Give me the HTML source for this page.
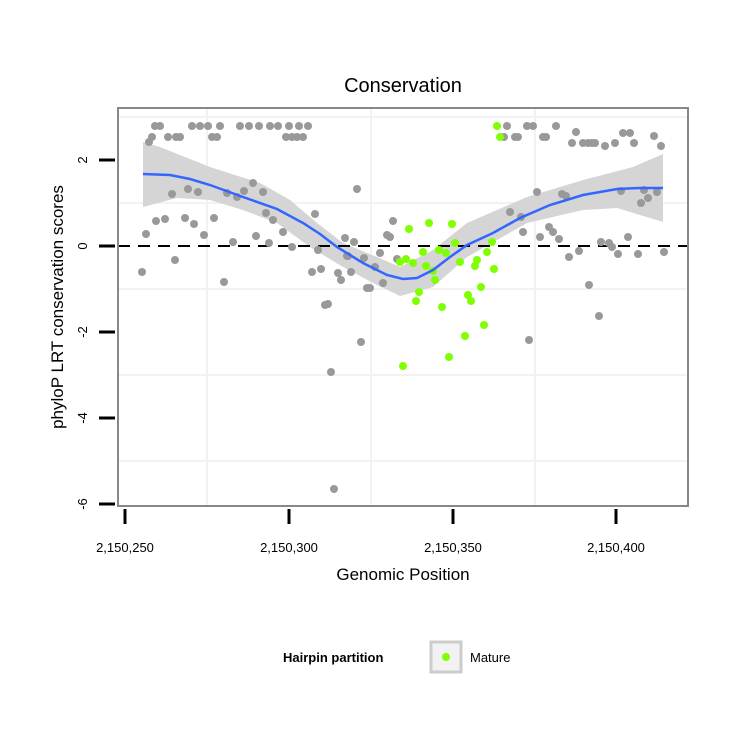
<!DOCTYPE html><html><head><style>body{margin:0;background:#fff}svg{display:block}text{font-family:"Liberation Sans",sans-serif}</style></head><body>
<svg width="750" height="750" viewBox="0 0 750 750">
<rect width="750" height="750" fill="#fff"/>
<g stroke="#f2f2f2" stroke-width="2">
<line x1="207" y1="108" x2="207" y2="506"/><line x1="371" y1="108" x2="371" y2="506"/><line x1="535" y1="108" x2="535" y2="506"/>
<line x1="118" y1="117" x2="688" y2="117"/><line x1="118" y1="203" x2="688" y2="203"/><line x1="118" y1="289" x2="688" y2="289"/><line x1="118" y1="375" x2="688" y2="375"/><line x1="118" y1="461" x2="688" y2="461"/>
</g>
<polygon fill="#d3d3d3" opacity="0.95" points="143,142 160,147 210,167 260,183 290,200 317,223 343,243 377,257 400,267 433,250 467,223 527,197 583,180 633,167 663,154 663,222 617,208 583,210 527,223 467,257 433,287 400,296 377,285 343,267 310,247 277,223 243,210 210,200 177,198 143,207"/>
<line x1="118" y1="246" x2="688" y2="246" stroke="#000" stroke-width="2" stroke-dasharray="12,8"/>
<g fill="#999">
<circle cx="160" cy="126" r="4"/><circle cx="192" cy="126" r="4"/><circle cx="200" cy="126" r="4"/><circle cx="208" cy="126" r="4"/><circle cx="220" cy="126" r="4"/><circle cx="240" cy="126" r="4"/><circle cx="249" cy="126" r="4"/><circle cx="259" cy="126" r="4"/><circle cx="278" cy="126" r="4"/><circle cx="289" cy="126" r="4"/><circle cx="299" cy="126" r="4"/><circle cx="308" cy="126" r="4"/><circle cx="155" cy="126" r="4"/><circle cx="270" cy="126" r="4"/>
<circle cx="152" cy="137" r="4"/><circle cx="168" cy="137" r="4"/><circle cx="180" cy="137" r="4"/><circle cx="176" cy="137" r="4"/><circle cx="212" cy="137" r="4"/><circle cx="217" cy="137" r="4"/><circle cx="286" cy="137" r="4"/><circle cx="297" cy="137" r="4"/><circle cx="303" cy="137" r="4"/><circle cx="292" cy="137" r="4"/><circle cx="149" cy="142" r="4"/>
<circle cx="172" cy="194" r="4"/><circle cx="188" cy="189" r="4"/><circle cx="198" cy="192" r="4"/><circle cx="253" cy="183" r="4"/><circle cx="227" cy="193" r="4"/><circle cx="237" cy="197" r="4"/><circle cx="244" cy="191" r="4"/><circle cx="263" cy="192" r="4"/><circle cx="266" cy="213" r="4"/><circle cx="273" cy="220" r="4"/><circle cx="283" cy="232" r="4"/><circle cx="315" cy="214" r="4"/><circle cx="357" cy="189" r="4"/><circle cx="156" cy="221" r="4"/><circle cx="165" cy="219" r="4"/><circle cx="185" cy="218" r="4"/><circle cx="194" cy="224" r="4"/><circle cx="214" cy="218" r="4"/><circle cx="146" cy="234" r="4"/><circle cx="204" cy="235" r="4"/><circle cx="256" cy="236" r="4"/><circle cx="233" cy="242" r="4"/><circle cx="269" cy="243" r="4"/><circle cx="292" cy="247" r="4"/><circle cx="318" cy="250" r="4"/><circle cx="345" cy="238" r="4"/><circle cx="354" cy="242" r="4"/><circle cx="387" cy="235" r="4"/><circle cx="390" cy="237" r="4"/><circle cx="393" cy="221" r="4"/><circle cx="175" cy="260" r="4"/><circle cx="142" cy="272" r="4"/><circle cx="224" cy="282" r="4"/><circle cx="312" cy="272" r="4"/><circle cx="321" cy="269" r="4"/><circle cx="338" cy="273" r="4"/><circle cx="341" cy="280" r="4"/><circle cx="351" cy="272" r="4"/><circle cx="348" cy="256" r="4"/><circle cx="364" cy="258" r="4"/><circle cx="375" cy="267" r="4"/><circle cx="380" cy="253" r="4"/><circle cx="397" cy="259" r="4"/><circle cx="367" cy="288" r="4"/><circle cx="370" cy="288" r="4"/><circle cx="383" cy="283" r="4"/><circle cx="325" cy="305" r="4"/><circle cx="328" cy="304" r="4"/><circle cx="361" cy="342" r="4"/><circle cx="331" cy="372" r="4"/><circle cx="334" cy="489" r="4"/><circle cx="347" cy="256" r="4"/>
<circle cx="507" cy="126" r="4"/><circle cx="527" cy="126" r="4"/><circle cx="533" cy="126" r="4"/><circle cx="556" cy="126" r="4"/><circle cx="504" cy="137" r="4"/><circle cx="515" cy="137" r="4"/><circle cx="518" cy="137" r="4"/><circle cx="543" cy="137" r="4"/><circle cx="546" cy="137" r="4"/><circle cx="576" cy="132" r="4"/><circle cx="623" cy="133" r="4"/><circle cx="630" cy="133" r="4"/><circle cx="654" cy="136" r="4"/>
<circle cx="572" cy="143" r="4"/><circle cx="583" cy="143" r="4"/><circle cx="588" cy="143" r="4"/><circle cx="592" cy="143" r="4"/><circle cx="595" cy="143" r="4"/><circle cx="605" cy="146" r="4"/><circle cx="615" cy="143" r="4"/><circle cx="634" cy="143" r="4"/><circle cx="661" cy="146" r="4"/>
<circle cx="537" cy="192" r="4"/><circle cx="562" cy="194" r="4"/><circle cx="566" cy="196" r="4"/><circle cx="510" cy="212" r="4"/><circle cx="521" cy="217" r="4"/><circle cx="523" cy="232" r="4"/><circle cx="549" cy="227" r="4"/><circle cx="553" cy="232" r="4"/><circle cx="559" cy="239" r="4"/><circle cx="540" cy="237" r="4"/><circle cx="621" cy="191" r="4"/><circle cx="644" cy="190" r="4"/><circle cx="657" cy="192" r="4"/><circle cx="648" cy="198" r="4"/><circle cx="641" cy="203" r="4"/><circle cx="601" cy="242" r="4"/><circle cx="609" cy="243" r="4"/><circle cx="612" cy="247" r="4"/><circle cx="628" cy="237" r="4"/><circle cx="579" cy="251" r="4"/><circle cx="569" cy="257" r="4"/><circle cx="618" cy="254" r="4"/><circle cx="638" cy="254" r="4"/><circle cx="664" cy="252" r="4"/><circle cx="589" cy="285" r="4"/><circle cx="599" cy="316" r="4"/><circle cx="529" cy="340" r="4"/>
</g>
<g fill="#7fff00">
<circle cx="497" cy="126" r="4"/><circle cx="500" cy="137" r="4"/>
<circle cx="409" cy="229" r="4"/><circle cx="429" cy="223" r="4"/><circle cx="452" cy="224" r="4"/><circle cx="406" cy="259" r="4"/><circle cx="400" cy="262" r="4"/><circle cx="413" cy="263" r="4"/><circle cx="423" cy="252" r="4"/><circle cx="426" cy="266" r="4"/><circle cx="433" cy="271" r="4"/><circle cx="435" cy="280" r="4"/><circle cx="419" cy="292" r="4"/><circle cx="416" cy="301" r="4"/><circle cx="442" cy="307" r="4"/><circle cx="439" cy="250" r="4"/><circle cx="446" cy="253" r="4"/><circle cx="455" cy="243" r="4"/><circle cx="460" cy="262" r="4"/><circle cx="477" cy="260" r="4"/><circle cx="475" cy="266" r="4"/><circle cx="487" cy="252" r="4"/><circle cx="492" cy="242" r="4"/><circle cx="494" cy="269" r="4"/><circle cx="481" cy="287" r="4"/><circle cx="468" cy="295" r="4"/><circle cx="471" cy="301" r="4"/><circle cx="484" cy="325" r="4"/><circle cx="465" cy="336" r="4"/><circle cx="449" cy="357" r="4"/><circle cx="403" cy="366" r="4"/>
</g>
<polyline fill="none" stroke="#3366ff" stroke-width="2.5" points="143,174 170,175 190,179 210,185 243,197 277,209 303,223 320,234 337,247 363,263 387,275 403,279 417,278 433,270 450,257 467,245 493,233 520,218 550,205 583,195 617,189 640,188 663,188"/>
<rect x="118" y="108" width="570" height="398" fill="none" stroke="#888" stroke-width="2"/>
<g stroke="#000" stroke-width="3">
<line x1="99" y1="160" x2="115" y2="160"/><line x1="99" y1="246" x2="115" y2="246"/><line x1="99" y1="332" x2="115" y2="332"/><line x1="99" y1="418" x2="115" y2="418"/><line x1="99" y1="504" x2="115" y2="504"/>
<line x1="125" y1="509" x2="125" y2="524"/><line x1="289" y1="509" x2="289" y2="524"/><line x1="453" y1="509" x2="453" y2="524"/><line x1="616" y1="509" x2="616" y2="524"/>
</g>
<g font-size="13" text-anchor="middle" fill="#000">
<text transform="translate(87,160) rotate(-90)">2</text><text transform="translate(87,246) rotate(-90)">0</text><text transform="translate(87,332) rotate(-90)">-2</text><text transform="translate(87,418) rotate(-90)">-4</text><text transform="translate(87,504) rotate(-90)">-6</text>
<text x="125" y="552">2,150,250</text><text x="289" y="552">2,150,300</text><text x="453" y="552">2,150,350</text><text x="616" y="552">2,150,400</text>
</g>
<text x="403" y="92" font-size="20" text-anchor="middle">Conservation</text>
<text x="403" y="580" font-size="17" text-anchor="middle">Genomic Position</text>
<text transform="translate(63,307) rotate(-90)" font-size="17" text-anchor="middle">phyloP LRT conservation scores</text>
<text x="283" y="662" font-size="13" font-weight="bold">Hairpin partition</text>
<rect x="431" y="642" width="30" height="30" fill="#f2f2f2" stroke="#ccc" stroke-width="3"/>
<circle cx="446" cy="657" r="4" fill="#7fff00"/>
<text x="470" y="662" font-size="13">Mature</text>
</svg>
</body></html>
